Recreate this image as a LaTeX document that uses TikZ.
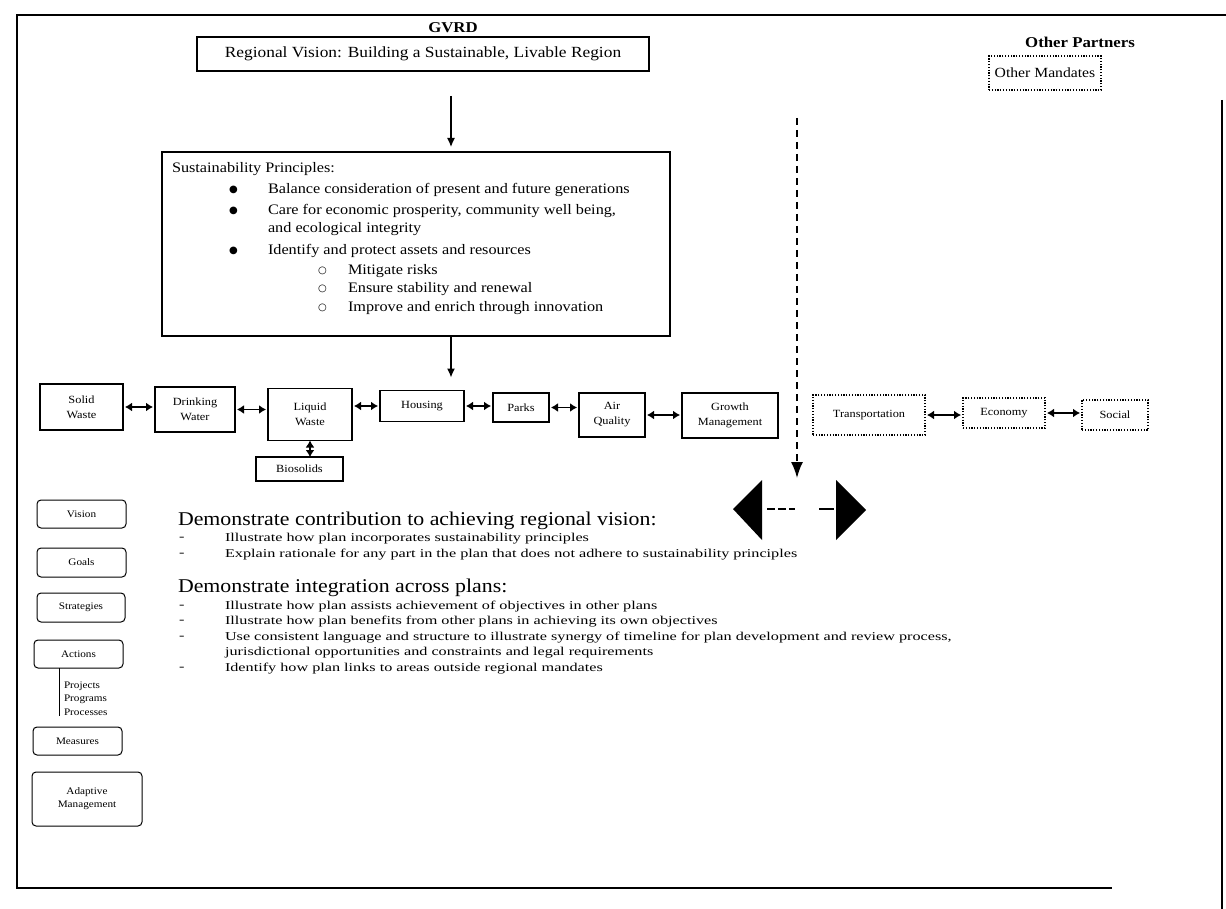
\documentclass[tikz,border=0pt]{standalone}
\usepackage{fontspec}
\setmainfont{Liberation Serif}
\newfontfamily\widefont{Liberation Serif}[FakeStretch=1.12]
\newfontfamily\xwidefont{Liberation Serif}[FakeStretch=1.35]
\newfontfamily\dotfont{DejaVu Sans}
\usetikzlibrary{arrows.meta}
\begin{document}
\begin{tikzpicture}[x=1pt,y=-1pt,
  every node/.style={inner sep=0pt,outer sep=0pt},
  rowbox/.style={draw,line width=1.2pt,align=center,font=\widefont\fontsize{11}{15}\selectfont},
  dotbox/.style={draw,line width=1.1pt,dash pattern=on 1.2pt off 1.6pt,align=center,font=\widefont\fontsize{11}{15}\selectfont},
  mainbox/.style={draw,line width=1.6pt},
  sidebox/.style={draw,line width=1pt,rounded corners=4pt,align=center,font=\widefont\fontsize{10}{13}\selectfont},
  titletext/.style={font=\widefont\bfseries\fontsize{15}{18}\selectfont},
  bodytext/.style={anchor=west,font=\widefont\fontsize{14.5}{17}\selectfont},
  bullettext/.style={anchor=west,font=\dotfont\fontsize{10}{12}\selectfont},
  itemtext/.style={anchor=west,font=\xwidefont\fontsize{12}{14}\selectfont},
  headtext/.style={anchor=west,font=\widefont\fontsize{19.5}{22}\selectfont},
  smalltext/.style={anchor=west,font=\widefont\fontsize{10}{12}\selectfont},
  twoway/.style={{Latex[length=7pt,width=9pt]}-{Latex[length=7pt,width=9pt]},line width=1.5pt,shorten <=2pt,shorten >=2pt},
  oneway/.style={-{Latex[length=9pt,width=8pt]},line width=1.3pt},
  bigdash/.style={line width=1.6pt,dash pattern=on 7pt off 5pt},
]
\fill[white] (0,0) rectangle (1226,909);
\useasboundingbox (0,0) rectangle (1226,909);
% frame
\draw[line width=1.2pt] (1226,15) -- (17,15) -- (17,888) -- (1112,888);
\draw[line width=1.4pt] (1222,100) -- (1222,909);

% top
\node[titletext] (gvrd) at (453,28) {GVRD};
\node[mainbox,minimum width=452,minimum height=34,font=\widefont\fontsize{15.5}{18}\selectfont] (vision) at (423,54) {Regional Vision: Building a Sustainable, Livable Region};
\node[titletext] (partners) at (1080,42) {Other Partners};
\node[dotbox,minimum width=112,minimum height=34,font=\widefont\fontsize{14}{17}\selectfont] (mandates) at (1045,73) {Other Mandates};

% principles box
\node[mainbox,minimum width=508,minimum height=184] (sust) at (416,244) {};
\node[bodytext] (sp) at (172,169) {Sustainability Principles:};
\node[bullettext] (b1) at (229,190) {●};
\node[bodytext] (t1) at (268,190) {Balance consideration of present and future generations};
\node[bullettext] (b2) at (229,211) {●};
\node[bodytext] (t2) at (268,211) {Care for economic prosperity, community well being,};
\node[bodytext] (t2b) at (268,229) {and ecological integrity};
\node[bullettext] (b3) at (229,251) {●};
\node[bodytext] (t3) at (268,251) {Identify and protect assets and resources};
\node[bullettext] (c1) at (318,271) {○};
\node[bodytext] (s1) at (348,271) {Mitigate risks};
\node[bullettext] (c2) at (318,289) {○};
\node[bodytext] (s2) at (348,289) {Ensure stability and renewal};
\node[bullettext] (c3) at (318,308) {○};
\node[bodytext] (s3) at (348,308) {Improve and enrich through innovation};

% row of plans
\node[rowbox,minimum width=83,minimum height=46] (sw) at (81.5,407) {Solid\\Waste};
\node[rowbox,minimum width=80,minimum height=45] (dw) at (195,409.5) {Drinking\\Water};
\node[rowbox,minimum width=84,minimum height=52] (lw) at (310,414.5) {Liquid\\Waste};
\node[rowbox,minimum width=84,minimum height=31] (ho) at (422,406) {Housing};
\node[rowbox,minimum width=56,minimum height=29] (pa) at (521,407.5) {Parks};
\node[rowbox,minimum width=66,minimum height=44] (aq) at (612,415) {Air\\Quality};
\node[rowbox,minimum width=96,minimum height=45] (gm) at (730,415.5) {Growth\\Management};
\node[dotbox,minimum width=112,minimum height=40] (tr) at (869,415) {Transportation};
\node[dotbox,minimum width=82,minimum height=30] (ec) at (1004,413) {Economy};
\node[dotbox,minimum width=66,minimum height=30] (so) at (1115,415) {Social};
\node[rowbox,minimum width=87,minimum height=24] (bi) at (299.5,469) {Biosolids};

\draw[twoway] (sw.east) -- (sw.east -| dw.west);
\draw[twoway] (dw.east) -- (dw.east -| lw.west);
\draw[twoway] (lw.east |- ho.west) -- (ho.west);
\draw[twoway] (ho.east) -- (ho.east -| pa.west);
\draw[twoway] (pa.east) -- (pa.east -| aq.west);
\draw[twoway] (aq.east) -- (aq.east -| gm.west);
\draw[twoway] (tr.east) -- (tr.east -| ec.west);
\draw[twoway] (ec.east) -- (ec.east -| so.west);
\draw[twoway,shorten <=0pt,shorten >=0pt] (lw.south) -- (lw.south |- bi.north);

% vertical arrows
\coordinate (ax) at (451,0);
\draw[oneway,shorten <=25pt,shorten >=5pt] (vision.south -| ax) -- (sust.north -| ax);
\draw[oneway,shorten >=13pt] (sust.south -| ax) -- (ho.north -| ax);

% dashed arrow and triangles
\coordinate (dtop) at (797,118);
\coordinate (dbot) at (797,478);
\draw[bigdash] (dtop) -- (797,462);
\draw[-{Latex[length=16pt,width=12pt]},line width=1.6pt] (797,462) -- (dbot);
\fill (733,509) -- (762,480) -- (762,540) -- cycle;
\fill (866,510) -- (836,480) -- (836,540) -- cycle;
\draw[line width=1.6pt,dash pattern=on 8pt off 3pt] (767,509) -- (795,509);
\draw[line width=1.6pt] (819,509) -- (834,509);

% left column
\node[sidebox,minimum width=89,minimum height=28] (vi) at (81.5,514) {Vision};
\node[sidebox,minimum width=89,minimum height=29] (go) at (81.5,562.5) {Goals};
\node[sidebox,minimum width=88,minimum height=29] (st) at (81,607.5) {Strategies};
\node[sidebox,minimum width=89,minimum height=28] (ac) at (78.5,654) {Actions};
\coordinate (pl) at (59,716);
\draw[line width=1pt] (ac.south -| pl) -- (pl);
\node[smalltext] (pj) at (64,686) {Projects};
\node[smalltext] (pg) at (64,699) {Programs};
\node[smalltext] (pc) at (64,712) {Processes};
\node[sidebox,minimum width=89,minimum height=28] (me) at (77.5,741) {Measures};
\node[sidebox,minimum width=110,minimum height=54] (ad) at (87,799) {Adaptive\\Management};

% text block
\node[headtext] (h1) at (178,521) {Demonstrate contribution to achieving regional vision:};
\node[itemtext] (d1) at (179,539) {-};
\node[itemtext] (i1) at (225,539) {Illustrate how plan incorporates sustainability principles};
\node[itemtext] (d2) at (179,555) {-};
\node[itemtext] (i2) at (225,555) {Explain rationale for any part in the plan that does not adhere to sustainability principles};
\node[headtext] (h2) at (178,588) {Demonstrate integration across plans:};
\node[itemtext] (d3) at (179,607) {-};
\node[itemtext] (i3) at (225,607) {Illustrate how plan assists achievement of objectives in other plans};
\node[itemtext] (d4) at (179,622) {-};
\node[itemtext] (i4) at (225,622) {Illustrate how plan benefits from other plans in achieving its own objectives};
\node[itemtext] (d5) at (179,638) {-};
\node[itemtext] (i5) at (225,638) {Use consistent language and structure to illustrate synergy of timeline for plan development and review process,};
\node[itemtext] (i5b) at (225,653) {jurisdictional opportunities and constraints and legal requirements};
\node[itemtext] (d6) at (179,669) {-};
\node[itemtext] (i6) at (225,669) {Identify how plan links to areas outside regional mandates};
\end{tikzpicture}
\end{document}
